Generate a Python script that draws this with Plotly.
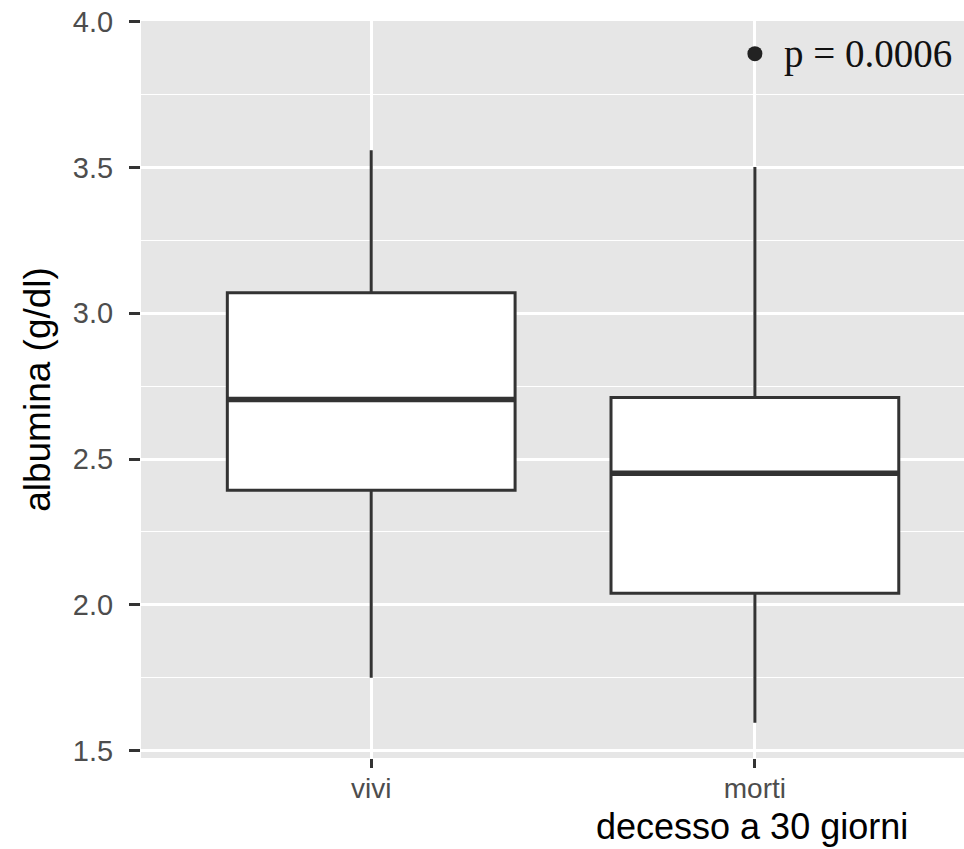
import plotly.graph_objects as go

# ---- data ----
categories = ["vivi", "morti"]
q1 = [2.393, 2.040]
medians = [2.704, 2.451]
q3 = [3.070, 2.711]
lower_whisker = [1.750, 1.596]
upper_whisker = [3.559, 3.501]
outlier_cat = ["morti"]
outlier_val = [3.89]
p_label = "p = 0.0006"
y_ticks = [1.5, 2.0, 2.5, 3.0, 3.5, 4.0]
y_ticklabels = ["1.5", "2.0", "2.5", "3.0", "3.5", "4.0"]
x_title = "decesso a 30 giorni"
y_title = "albumina (g/dl)"

pos = list(range(len(categories)))
box_w = 0.75
line_col = "#333333"

fig = go.Figure()
fig.add_trace(go.Box(
    x=pos, q1=q1, median=medians, q3=q3,
    lowerfence=lower_whisker, upperfence=upper_whisker,
    width=box_w, whiskerwidth=0, boxpoints=False,
    fillcolor="white", line=dict(color=line_col, width=3),
    hoverinfo="skip", showlegend=False,
))
# thicker median bars (ggplot fatten)
for i, m in zip(pos, medians):
    fig.add_trace(go.Scatter(
        x=[i - box_w / 2, i + box_w / 2], y=[m, m], mode="lines",
        line=dict(color=line_col, width=5.5), showlegend=False, hoverinfo="skip",
    ))
# outliers
fig.add_trace(go.Scatter(
    x=[categories.index(c) for c in outlier_cat], y=outlier_val, mode="markers",
    marker=dict(color="#222222", size=15), showlegend=False, hoverinfo="skip",
))

fig.add_annotation(
    x=1.07, y=outlier_val[0], xref="x", yref="y", text=p_label, showarrow=False,
    xanchor="left", yanchor="middle",
    font=dict(family="Liberation Serif", size=39, color="#111111"),
)
fig.add_annotation(
    x=(752 - 141) / (964 - 141), xref="paper", y=-0.124, yref="paper", text=x_title,
    showarrow=False, xanchor="center", yanchor="bottom",
    font=dict(family="Liberation Sans", size=36, color="#000000"),
)

fig.update_layout(
    width=964, height=849,
    margin=dict(l=141, r=0, t=21, b=91),
    paper_bgcolor="white", plot_bgcolor="#E6E6E6",
    font=dict(family="Liberation Sans"),
)

fig.update_xaxes(
    range=[-0.6, 1.545], tickmode="array", tickvals=pos, ticktext=categories,
    showgrid=True, gridcolor="white", gridwidth=2.5, zeroline=False,
    ticks="outside", ticklen=9, tickwidth=2.5, tickcolor=line_col, ticklabelstandoff=-4,
    tickfont=dict(family="Liberation Sans", size=28, color="#4D4D4D"),
    showline=False,
)
fig.update_yaxes(
    range=[1.475, 4.002], tickmode="array", tickvals=y_ticks, ticktext=y_ticklabels,
    showgrid=True, gridcolor="white", gridwidth=2.5, zeroline=False,
    minor=dict(dtick=0.25, tick0=1.25, showgrid=True, gridcolor="white", gridwidth=1.2, ticks=""),
    ticks="outside", ticklen=11, tickwidth=2.5, tickcolor=line_col, ticklabelstandoff=10,
    tickfont=dict(family="Liberation Sans", size=29, color="#4D4D4D"),
    title=dict(text=y_title, font=dict(family="Liberation Sans", size=37, color="#000000"), standoff=10),
    showline=False,
)

fig.write_html("out.html")
